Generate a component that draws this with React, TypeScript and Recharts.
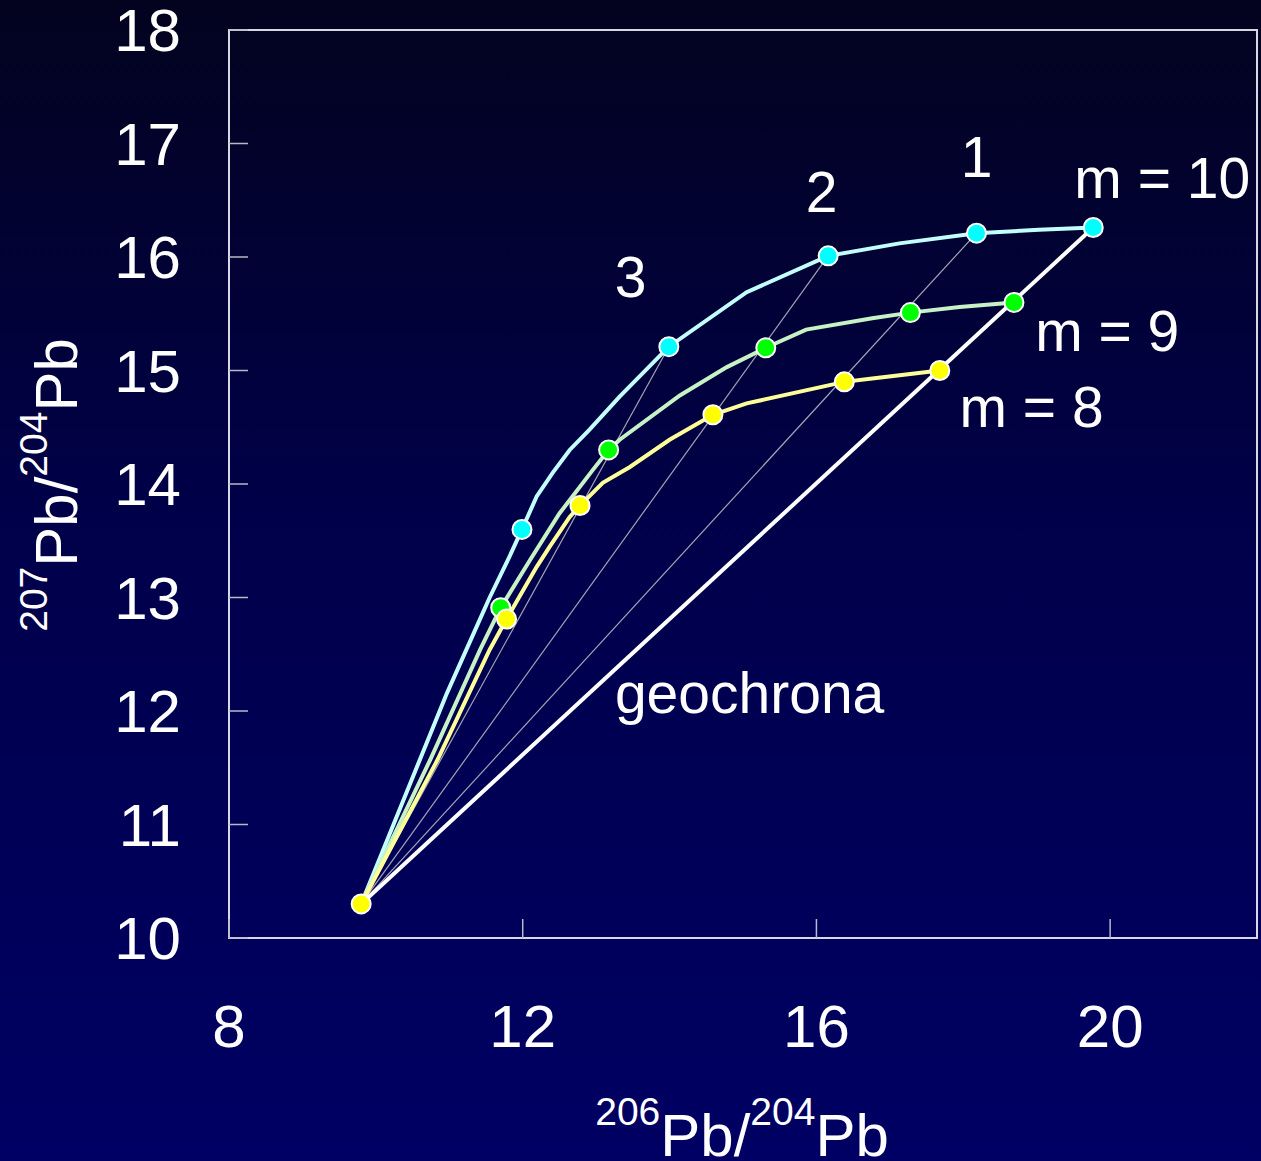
import React from 'react';
import { ComposedChart, Line, Scatter, XAxis, YAxis, ReferenceArea, Label } from 'recharts';

const xTicks = [8, 12, 16, 20];
const yTicks = [10, 11, 12, 13, 14, 15, 16, 17, 18];

// m = 10 growth curve (cyan)
const cyanCurve = [
  { x: 9.8, y: 10.3 }, { x: 10.97, y: 12.16 }, { x: 11.35, y: 12.71 }, { x: 11.55, y: 13.0 },
  { x: 11.82, y: 13.36 }, { x: 11.99, y: 13.6 }, { x: 12.19, y: 13.89 }, { x: 12.41, y: 14.1 },
  { x: 12.64, y: 14.3 }, { x: 12.91, y: 14.48 }, { x: 13.32, y: 14.77 }, { x: 13.99, y: 15.21 },
  { x: 15.05, y: 15.69 }, { x: 16.16, y: 16.01 }, { x: 17.13, y: 16.12 }, { x: 18.18, y: 16.21 },
  { x: 19.03, y: 16.24 }, { x: 19.77, y: 16.26 },
];
// m = 9 growth curve (green)
const greenCurve = [
  { x: 9.8, y: 10.3 }, { x: 10.74, y: 11.57 }, { x: 11.42, y: 12.54 }, { x: 11.7, y: 12.91 },
  { x: 12.1, y: 13.33 }, { x: 12.5, y: 13.74 }, { x: 12.95, y: 14.12 }, { x: 13.17, y: 14.3 },
  { x: 13.32, y: 14.39 }, { x: 14.14, y: 14.78 }, { x: 14.78, y: 15.03 }, { x: 15.31, y: 15.2 },
  { x: 15.86, y: 15.36 }, { x: 16.76, y: 15.46 }, { x: 17.28, y: 15.51 }, { x: 17.95, y: 15.56 },
  { x: 18.69, y: 15.6 },
];
// m = 8 growth curve (yellow)
const yellowCurve = [
  { x: 9.8, y: 10.3 }, { x: 10.84, y: 11.57 }, { x: 11.55, y: 12.54 }, { x: 11.78, y: 12.81 },
  { x: 12.19, y: 13.27 }, { x: 12.37, y: 13.45 }, { x: 12.64, y: 13.71 }, { x: 12.78, y: 13.81 },
  { x: 13.09, y: 14.01 }, { x: 13.46, y: 14.15 }, { x: 14.0, y: 14.39 }, { x: 14.59, y: 14.61 },
  { x: 15.05, y: 14.71 }, { x: 16.38, y: 14.9 }, { x: 16.76, y: 14.93 }, { x: 17.68, y: 15.0 },
];

const cyanDots = [
  { x: 11.99, y: 13.6 }, { x: 13.99, y: 15.21 }, { x: 16.16, y: 16.01 }, { x: 18.18, y: 16.21 }, { x: 19.77, y: 16.26 },
];
const greenDots = [
  { x: 11.7, y: 12.91 }, { x: 13.17, y: 14.3 }, { x: 15.31, y: 15.2 }, { x: 17.28, y: 15.51 }, { x: 18.69, y: 15.6 },
];
const yellowDots = [
  { x: 9.8, y: 10.3 }, { x: 11.78, y: 12.81 }, { x: 12.78, y: 13.81 }, { x: 14.59, y: 14.61 }, { x: 16.38, y: 14.9 }, { x: 17.68, y: 15.0 },
];

const isochron1 = [{ x: 9.8, y: 10.3 }, { x: 18.18, y: 16.21 }];
const isochron2 = [{ x: 9.8, y: 10.3 }, { x: 16.16, y: 16.01 }];
const isochron3 = [{ x: 9.8, y: 10.3 }, { x: 13.99, y: 15.21 }];
const geochron = [{ x: 9.8, y: 10.3 }, { x: 19.77, y: 16.26 }];

const textLabels = [
  { x: 18.18, y: 16.88, text: '1' },
  { x: 16.07, y: 16.57, text: '2' },
  { x: 13.47, y: 15.82, text: '3' },
  { x: 20.71, y: 16.7, text: 'm = 10' },
  { x: 19.96, y: 15.35, text: 'm = 9' },
  { x: 18.93, y: 14.68, text: 'm = 8' },
  { x: 15.09, y: 12.16, text: 'geochrona' },
];

const FONT = '"Liberation Sans", Arial, Helvetica, sans-serif';

const XTick = (props: any) => {
  const { x, y, payload } = props;
  return (
    <g>
      <line x1={x} y1={y} x2={x} y2={y - 19} stroke="#b8b8c8" strokeWidth={1.5} />
      <text x={x} y={y + 109} textAnchor="middle" fill="#ffffff" fontSize={60} fontFamily={FONT}>
        {payload.value}
      </text>
    </g>
  );
};

const YTick = (props: any) => {
  const { x, y, payload } = props;
  return (
    <g>
      <line x1={x} y1={y} x2={x + 19} y2={y} stroke="#b8b8c8" strokeWidth={1.5} />
      <text x={x - 48} y={y + 21} textAnchor="end" fill="#ffffff" fontSize={60} fontFamily={FONT}>
        {payload.value}
      </text>
    </g>
  );
};

const makeDot = (fill: string) => (props: any) => {
  const { cx, cy } = props;
  return <circle cx={cx} cy={cy} r={9.5} fill={fill} stroke="#ffffff" strokeWidth={2} />;
};

const TextShape = (props: any) => {
  const { cx, cy, payload } = props;
  return (
    <text x={cx} y={cy + 20} textAnchor="middle" fill="#ffffff" fontSize={57} fontFamily={FONT}>
      {payload.text}
    </text>
  );
};

const XTitle = () => (
  <text x={742} y={1156} textAnchor="middle" fill="#ffffff" fontSize={60} fontFamily={FONT}>
    <tspan fontSize={39} dy={-31}>206</tspan>
    <tspan dy={31}>Pb/</tspan>
    <tspan fontSize={39} dy={-31}>204</tspan>
    <tspan dy={31}>Pb</tspan>
  </text>
);

const YTitle = () => (
  <text x={77} y={485} transform="rotate(-90 77 485)" textAnchor="middle" fill="#ffffff" fontSize={60} fontFamily={FONT}>
    <tspan fontSize={39} dy={-30}>207</tspan>
    <tspan dy={30}>Pb/</tspan>
    <tspan fontSize={39} dy={-30}>204</tspan>
    <tspan dy={30}>Pb</tspan>
  </text>
);

const lineCommon = { type: 'linear' as const, dot: false, activeDot: false, isAnimationActive: false };

export default function App() {
  return (
    <div
      style={{
        position: 'absolute',
        left: 0,
        top: 0,
        width: 1261,
        height: 1161,
        background: 'linear-gradient(to bottom, #03031f 0%, #00004a 45%, #000064 100%)',
      }}
    >
      <ComposedChart width={1261} height={1161} margin={{ top: 30, right: 4, bottom: 0, left: 0 }}>
        <XAxis
          type="number"
          dataKey="x"
          domain={[8, 22]}
          ticks={xTicks}
          interval={0}
          height={223}
          tickSize={0}
          tickMargin={0}
          tickLine={false}
          tick={<XTick />}
          axisLine={{ stroke: '#d8d8e4', strokeWidth: 2 }}
          allowDataOverflow
        >
          <Label content={<XTitle />} />
        </XAxis>
        <YAxis
          type="number"
          dataKey="y"
          domain={[10, 18]}
          ticks={yTicks}
          interval={0}
          width={229}
          tickSize={0}
          tickMargin={0}
          tickLine={false}
          tick={<YTick />}
          axisLine={{ stroke: '#d8d8e4', strokeWidth: 2 }}
          allowDataOverflow
        >
          <Label content={<YTitle />} />
        </YAxis>
        <ReferenceArea x1={8} x2={22} y1={10} y2={18} fill="none" fillOpacity={0} stroke="#d8d8e4" strokeWidth={2} />

        <Line data={isochron1} dataKey="y" stroke="#a4a4b4" strokeWidth={1.2} {...lineCommon} />
        <Line data={isochron2} dataKey="y" stroke="#a4a4b4" strokeWidth={1.2} {...lineCommon} />
        <Line data={isochron3} dataKey="y" stroke="#a4a4b4" strokeWidth={1.2} {...lineCommon} />

        <Line data={cyanCurve} dataKey="y" stroke="#c4ffff" strokeWidth={4} {...lineCommon} />
        <Line data={greenCurve} dataKey="y" stroke="#c6f2c6" strokeWidth={4} {...lineCommon} />
        <Line data={yellowCurve} dataKey="y" stroke="#ffff99" strokeWidth={4} {...lineCommon} />
        <Line data={geochron} dataKey="y" stroke="#ffffff" strokeWidth={4} {...lineCommon} />

        <Scatter data={cyanDots} dataKey="y" shape={makeDot('#00ffff')} isAnimationActive={false} />
        <Scatter data={greenDots} dataKey="y" shape={makeDot('#00ff00')} isAnimationActive={false} />
        <Scatter data={yellowDots} dataKey="y" shape={makeDot('#ffff00')} isAnimationActive={false} />
        <Scatter data={textLabels} dataKey="y" shape={TextShape} isAnimationActive={false} />
      </ComposedChart>
    </div>
  );
}
